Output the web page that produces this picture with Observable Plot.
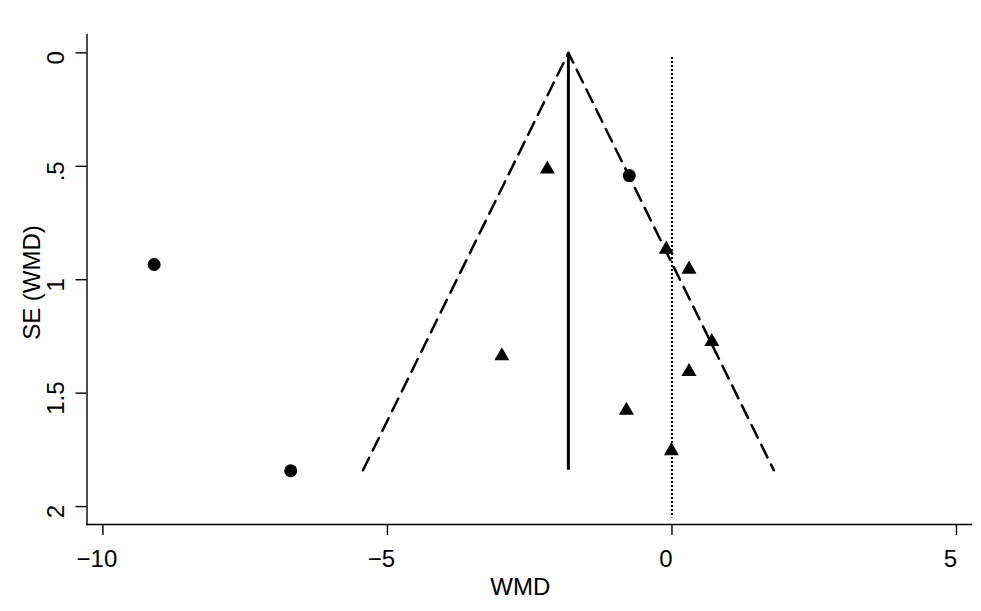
<!DOCTYPE html>
<html>
<head>
<meta charset="utf-8">
<script src="https://cdn.jsdelivr.net/npm/d3@7"></script>
<script src="https://cdn.jsdelivr.net/npm/@observablehq/plot@0.6"></script>
<style>
  html, body { margin: 0; padding: 0; background: #fff; }
  #chart svg { display: block; }
</style>
</head>
<body>
<div id="chart"></div>
<script>
// Studies shown as circles
const circleWMD = [-9.10, -0.75, -6.70];
const circleSE  = [0.933, 0.541, 1.842];
// Studies shown as triangles
const triWMD = [-2.19, -0.10, 0.30, 0.70, 0.30, -2.99, -0.80, -0.01];
const triSE  = [0.513, 0.866, 0.954, 1.273, 1.405, 1.336, 1.576, 1.754];
// Pseudo 95% confidence funnel (left end, apex, right end)
const funnelWMD = [-5.43, -1.82, 1.79];
const funnelSE  = [1.84, 0, 1.84];
// Pooled estimate and line of no effect
const pooledWMD = [-1.82];
const pooledSE = [0, 1.84];
const nullWMD = [0];
const nullSE = [0.02, 2.05];
// Axes
const xTicks = [-10, -5, 0, 5];
const yTicks = [0, 0.5, 1, 1.5, 2];
const yTickLabels = ["0", ".5", "1", "1.5", "2"];
const xTitle = "WMD";
const yTitle = "SE (WMD)";

const circles = circleWMD.map((x, i) => ({x, y: circleSE[i]}));
const triangles = triWMD.map((x, i) => ({x, y: triSE[i]}));
const funnel = funnelWMD.map((x, i) => ({x, y: funnelSE[i]}));
const yFmt = v => yTickLabels[yTicks.indexOf(v)];

const font = "'Liberation Sans', Arial, sans-serif";

const chart = Plot.plot({
  width: 981,
  height: 611,
  marginLeft: 86.5,
  marginRight: 10,
  marginTop: 34,
  marginBottom: 87,
  style: {fontFamily: font, fontSize: "24px", color: "#000", background: "#fff"},
  x: {domain: [-10.28, 5.264]},
  y: {domain: [-0.081, 2.079], reverse: true},
  marks: [
    Plot.frame({anchor: "left", stroke: "#000", strokeWidth: 1.4}),
    Plot.frame({anchor: "bottom", stroke: "#000", strokeWidth: 1.4}),
    // tick lines
    Plot.axisX({ticks: xTicks, tickSize: 11, tickFormat: () => "", label: null, strokeWidth: 1.4}),
    Plot.axisY({ticks: yTicks, tickSize: 11, tickFormat: () => "", label: null, strokeWidth: 1.4}),
    // tick labels
    Plot.axisX({ticks: xTicks, tickSize: 0, tickPadding: 25, dx: -6, label: null, fontSize: 24}),
    Plot.axisY({ticks: yTicks, tickSize: 0, tickPadding: 23.5, tickRotate: -90, dy: 5, tickFormat: yFmt, label: null, fontSize: 24}),
    // axis titles
    Plot.text([xTitle], {frameAnchor: "bottom", dy: 70, dx: -9, lineAnchor: "bottom", textAnchor: "middle", fontSize: 24, fill: "#000"}),
    Plot.text([yTitle], {frameAnchor: "left", dx: -47.5, dy: 3, rotate: -90, lineAnchor: "bottom", textAnchor: "middle", fontSize: 24, fill: "#000"}),
    // reference lines
    Plot.ruleX(nullWMD, {y1: nullSE[0], y2: nullSE[1], stroke: "#000", strokeWidth: 2, strokeDasharray: "2,2"}),
    Plot.ruleX(pooledWMD, {y1: pooledSE[0], y2: pooledSE[1], stroke: "#000", strokeWidth: 3}),
    Plot.line(funnel, {x: "x", y: "y", stroke: "#000", strokeWidth: 2.5, strokeDasharray: "14,8"}),
    // studies
    Plot.dot(circles, {x: "x", y: "y", r: 6.5, fill: "#000", stroke: "none"}),
    Plot.dot(triangles, {x: "x", y: "y", symbol: "triangle", r: 5.6, fill: "#000", stroke: "none"})
  ]
});
document.getElementById("chart").appendChild(chart);
</script>
</body>
</html>
